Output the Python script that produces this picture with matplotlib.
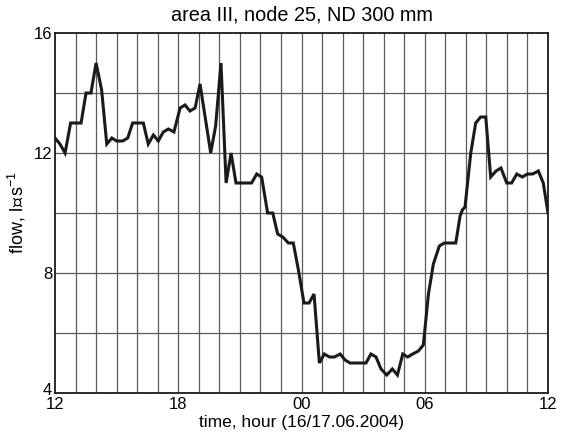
import matplotlib
matplotlib.use("Agg")
import matplotlib.pyplot as plt
import matplotlib.transforms as mtransforms
import numpy as np

# hours since 12:00 on 16.06.2004
hours = [0.0, 0.24, 0.49, 0.76, 1.27, 1.51, 1.75, 2.0, 2.27, 2.52, 2.77, 3.0, 3.29, 3.54,
         3.78, 4.3, 4.54, 4.79, 5.03, 5.27, 5.52, 5.79, 6.09, 6.33, 6.57, 6.82, 7.06, 7.58,
         7.82, 8.08, 8.33, 8.57, 8.81, 9.57, 9.82, 10.06, 10.35, 10.6, 10.84, 11.09, 11.36,
         11.6, 11.85, 12.12, 12.37, 12.61, 12.87, 13.11, 13.36, 13.6, 13.88, 14.12, 14.36,
         15.14, 15.38, 15.63, 15.87, 16.15, 16.42, 16.67, 16.93, 17.17, 17.41, 17.69, 17.93,
         18.18, 18.42, 18.71, 18.95, 19.51, 19.72, 19.83, 19.96, 20.24, 20.48, 20.72, 20.97,
         21.21, 21.47, 21.71, 21.99, 22.23, 22.48, 22.75, 23.0, 23.25, 23.53, 23.77, 24.0]
flow = [12.5, 12.3, 12.0, 13.0, 13.0, 14.0, 14.0, 15.0, 14.1, 12.3, 12.5, 12.4, 12.4, 12.5,
        13.0, 13.0, 12.3, 12.6, 12.4, 12.7, 12.8, 12.7, 13.5, 13.6, 13.4, 13.5, 14.3, 12.0,
        12.9, 15.0, 11.0, 12.0, 11.0, 11.0, 11.3, 11.2, 10.0, 10.0, 9.3, 9.2, 9.0,
        9.0, 8.1, 7.0, 7.0, 7.3, 5.0, 5.3, 5.2, 5.2, 5.3, 5.1, 5.0,
        5.0, 5.3, 5.2, 4.8, 4.6, 4.8, 4.6, 5.3, 5.2, 5.3, 5.4, 5.6,
        7.3, 8.3, 8.9, 9.0, 9.0, 9.9, 10.1, 10.2, 12.0, 13.0, 13.2, 13.2,
        11.2, 11.4, 11.5, 11.0, 11.0, 11.3, 11.2, 11.3, 11.3, 11.4, 11.0, 10.0]

xtick_pos = [0, 6, 12, 18, 24]
xtick_labels = ["12", "18", "00", "06", "12"]
ytick_pos = [4, 8, 12, 16]
ytick_labels = ["4", "8", "12", "16"]

plt.rcParams['font.family'] = ['Liberation Sans', 'DejaVu Sans']
plt.rcParams['mathtext.fontset'] = 'custom'
plt.rcParams['mathtext.rm'] = 'Liberation Sans'
plt.rcParams['mathtext.it'] = 'Liberation Sans'

fig = plt.figure(figsize=(5.61, 4.37), dpi=100)
ax = fig.add_axes([55/561, 44/437, 493/561, 360/437])

for h in range(1, 24):
    ax.axvline(h, color='#5a5a5a', lw=0.9, zorder=1)
for yv in range(6, 16, 2):
    ax.axhline(yv, color='#5a5a5a', lw=0.9, zorder=1)

ax.plot(hours, flow, color='#1a1a1a', lw=2.2, zorder=3, solid_joinstyle='miter')

ax.set_xlim(0, 24)
ax.set_ylim(4, 16)
ax.set_xticks(xtick_pos)
ax.set_xticklabels(xtick_labels)
ax.set_yticks(ytick_pos)
ax.set_yticklabels(ytick_labels)
ax.tick_params(length=0, labelsize=12)
ax.tick_params(axis='x', pad=3)
ax.tick_params(axis='y', pad=2)
for s in ax.spines.values():
    s.set_linewidth(1.3)
    s.set_color('#1a1a1a')

# lift the "4" label slightly so it sits above the x tick label, like the reference
lbl4 = ax.get_yticklabels()[0]
lbl4.set_transform(lbl4.get_transform() + mtransforms.ScaledTranslation(0, 3/72, fig.dpi_scale_trans))

ax.set_title("area III, node 25, ND 300 mm", fontsize=14.3, pad=9)
ax.set_xlabel("time, hour (16/17.06.2004)", fontsize=12.5, labelpad=2)
ax.set_ylabel("flow, l\u200a∘\u200as$^{\\mathregular{-1}}$", fontsize=13, labelpad=4)

fig.savefig("out.png", dpi=100)
